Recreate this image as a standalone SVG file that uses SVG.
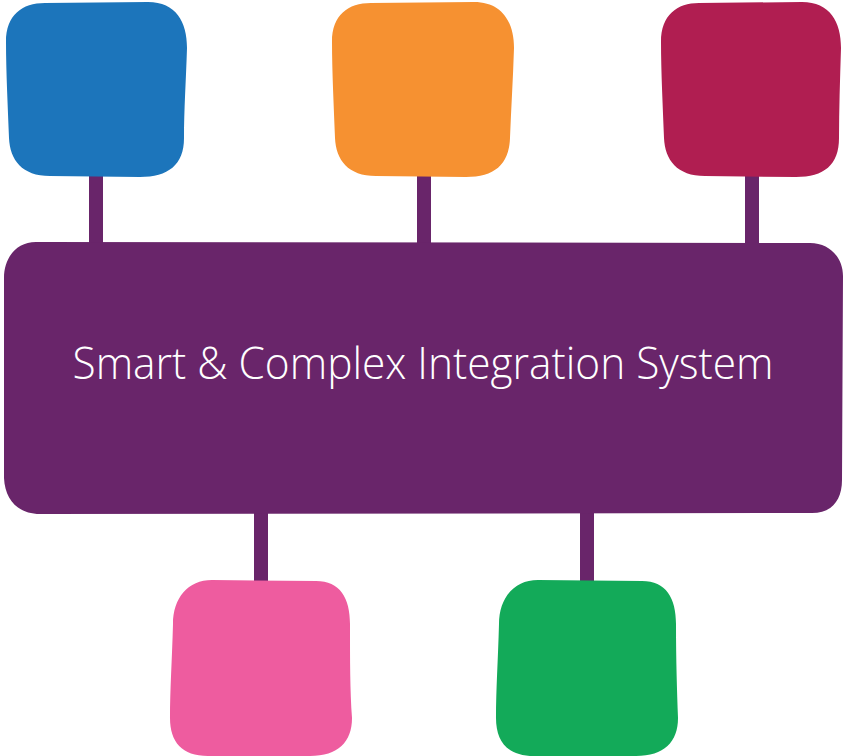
<svg xmlns="http://www.w3.org/2000/svg" width="844" height="756" viewBox="0 0 844 756">
<style>
.conn{fill:#69256a}
.main{fill:#69256a}
.label{font-family:"Open Sans","Noto Sans","Liberation Sans",sans-serif;font-weight:300;font-size:44px;fill:#ffffff}
</style>
<rect width="844" height="756" fill="#ffffff"/>
<g id="connectors">
<rect class="conn" x="89" y="170" width="14" height="80"/>
<rect class="conn" x="417" y="170" width="14" height="80"/>
<rect class="conn" x="745" y="170" width="14" height="80"/>
<rect class="conn" x="254" y="505" width="14" height="80"/>
<rect class="conn" x="580" y="505" width="14" height="80"/>
</g>
<g id="node-blue">
<path fill="#1c75bb" d="M 45,3 L 148,2 C 176,2 187,22 187,48 C 186,80 184,110 184,138 C 184,165 168,177 140,177 L 50,176 C 22,176 10,160 9,138 C 8,110 6,72 6,42 C 6,15 22,3 45,3 Z"/>
</g>
<g id="node-orange">
<path fill="#f69131" d="M 371,3 L 474,2 C 502,2 514,22 514,48 C 513,80 511,110 510,138 C 509,165 494,177 466,177 L 376,176 C 348,176 336,160 335,138 C 334,110 332,72 332,42 C 332,15 348,3 371,3 Z"/>
</g>
<g id="node-red">
<path fill="#b01e51" d="M 699,3 L 802,2 C 830,2 841,22 841,48 C 840,80 839,110 839,138 C 839,165 824,177 796,177 L 705,176 C 677,176 665,160 664,138 C 663,110 661,72 661,42 C 661,15 677,3 699,3 Z"/>
</g>
<g id="node-main">
<path class="main" d="M 36,242 L 810,243 C 830,243 843,258 843,276 L 842,480 C 842,500 832,513 812,513 L 40,514 C 18,514 5,500 4,478 L 4,278 C 4,258 16,242 36,242 Z"/>
<text class="label" x="423" y="379" text-anchor="middle" textLength="701" lengthAdjust="spacingAndGlyphs">Smart &amp; Complex Integration System</text>
</g>
<g id="node-pink">
<path fill="#ee5c9f" d="M 212,580 L 316,581 C 340,581 350,598 350,624 C 350,660 350,690 352,718 C 352,742 338,756 310,756 L 208,756 C 182,756 170,742 170,718 C 170,690 172,660 173,624 C 173,598 188,580 212,580 Z"/>
</g>
<g id="node-green">
<path fill="#13aa59" d="M 538,580 L 642,581 C 666,581 676,598 676,624 C 676,660 677,690 678,718 C 678,742 664,756 636,756 L 534,756 C 508,756 496,742 496,718 C 496,690 498,660 499,624 C 499,598 514,580 538,580 Z"/>
</g>
</svg>
